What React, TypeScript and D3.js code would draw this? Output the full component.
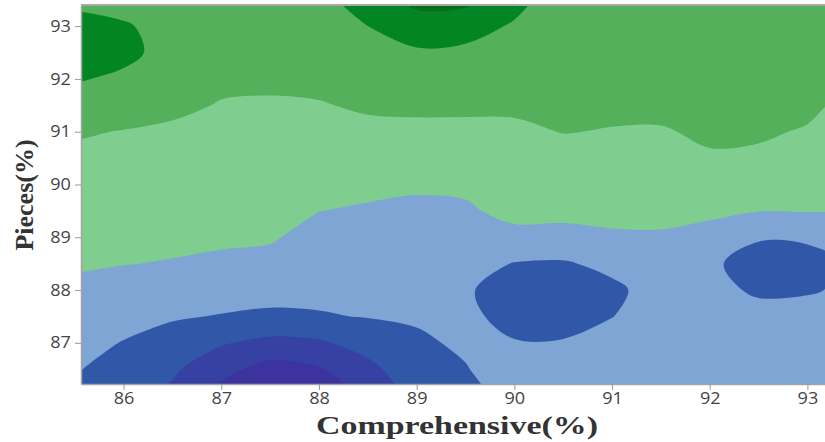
import * as d3 from "d3";
import { useEffect, useRef } from "react";

// grid of the response surface (rows go from top to bottom)
const xValues = [85.0, 85.5, 86.0, 86.5, 87.0, 87.5, 88.0, 88.5, 89.0, 89.5, 90.0, 90.5, 91.0, 91.5, 92.0, 92.5, 93.0, 93.5, 94.0];
const yValues = [94.0, 93.5, 93.0, 92.5, 92.0, 91.5, 91.0, 90.5, 90.0, 89.5, 89.0, 88.5, 88.0, 87.5, 87.0, 86.5, 86.0, 85.5];
const zRows = [
  [4.5, 4.5, 4.4, 4.3, 4.45, 4.5, 4.95, 5.5, 6.6, 6.5, 5.9, 4.75, 4.85, 4.85, 4.95, 5.0, 5.0, 5.05, 5.1],
  [4.9, 4.75, 4.6, 4.45, 4.45, 4.5, 4.85, 5.25, 6.3, 6.3, 5.25, 4.6, 4.72, 4.72, 4.85, 4.9, 4.9, 4.95, 5.0],
  [5.5, 5.35, 5.1, 4.65, 4.4, 4.45, 4.65, 5.0, 5.52, 5.3, 4.92, 4.45, 4.58, 4.58, 4.72, 4.78, 4.78, 4.8, 4.85],
  [5.4, 5.4, 5.2, 4.72, 4.3, 4.35, 4.4, 4.7, 4.88, 4.85, 4.65, 4.35, 4.43, 4.43, 4.58, 4.62, 4.6, 4.6, 4.65],
  [5.15, 5.07, 4.86, 4.5, 4.14, 4.15, 4.2, 4.4, 4.52, 4.5, 4.39, 4.25, 4.28, 4.28, 4.43, 4.47, 4.42, 4.1, 4.05],
  [4.7, 4.57, 4.39, 4.15, 3.96, 3.91, 3.95, 4.11, 4.16, 4.15, 4.12, 4.13, 4.13, 4.13, 4.27, 4.3, 4.2, 3.7, 3.65],
  [4.15, 4.08, 3.97, 3.89, 3.8, 3.74, 3.71, 3.8, 3.81, 3.81, 3.87, 4.02, 3.97, 3.96, 4.08, 4.12, 3.92, 3.55, 3.5],
  [3.87, 3.84, 3.78, 3.71, 3.63, 3.57, 3.48, 3.49, 3.47, 3.49, 3.65, 3.74, 3.7, 3.7, 3.95, 3.85, 3.62, 3.4, 3.38],
  [3.68, 3.65, 3.59, 3.53, 3.46, 3.41, 3.25, 3.19, 3.1, 3.16, 3.45, 3.5, 3.5, 3.45, 3.5, 3.46, 3.33, 3.22, 3.22],
  [3.49, 3.46, 3.4, 3.35, 3.29, 3.24, 3.01, 2.91, 2.85, 2.88, 3.25, 3.25, 3.3, 3.19, 3.14, 3.02, 3.04, 3.02, 3.05],
  [3.3, 3.27, 3.21, 3.16, 3.12, 3.07, 2.76, 2.69, 2.69, 2.7, 2.75, 2.7, 2.85, 2.92, 2.75, 2.1, 2.15, 2.6, 2.7],
  [3.1, 3.08, 3.02, 2.96, 2.86, 2.8, 2.51, 2.47, 2.5, 2.35, 1.96, 1.9, 2.24, 2.6, 2.2, 1.5, 1.6, 2.15, 2.4],
  [2.9, 2.85, 2.68, 2.52, 2.42, 2.34, 2.24, 2.25, 2.31, 2.1, 1.6, 1.5, 1.8, 2.4, 2.3, 1.85, 1.9, 2.2, 2.4],
  [2.7, 2.59, 2.32, 2.09, 1.95, 1.83, 1.93, 2.04, 2.11, 2.2, 1.7, 1.6, 1.98, 2.45, 2.5, 2.35, 2.4, 2.45, 2.5],
  [2.5, 2.33, 1.96, 1.62, 1.09, 0.74, 0.87, 1.37, 1.85, 2.15, 2.05, 2.07, 2.35, 2.6, 2.6, 2.55, 2.55, 2.6, 2.6],
  [2.25, 2.08, 1.6, 1.14, 0.33, -0.4, -0.1, 0.74, 1.6, 1.95, 2.5, 2.5, 2.6, 2.7, 2.7, 2.65, 2.65, 2.65, 2.65],
  [2.05, 1.82, 1.3, 0.8, -0.4, -1.2, -0.8, 0.21, 1.3, 1.6, 2.45, 2.6, 2.7, 2.75, 2.75, 2.7, 2.7, 2.7, 2.7],
  [1.85, 1.6, 1.05, 0.6, -1.0, -1.8, -1.4, -0.3, 0.9, 1.3, 2.35, 2.6, 2.7, 2.75, 2.75, 2.7, 2.7, 2.7, 2.7],
];
const levels = [0, 1, 2, 3, 4, 5, 6];
const bandColors = ["#3c339e", "#3641a3", "#3158a8", "#7ea5d4", "#80ce8f", "#54b05b", "#048523", "#006f15"];
const xTicks = [86, 87, 88, 89, 90, 91, 92, 93];
const yTicks = [87, 88, 89, 90, 91, 92, 93];

const App = () => {
  const svgRef = useRef<SVGSVGElement>(null);

  useEffect(() => {
    const w = 825;
    const h = 442;
    const left = 81, right = 825, top = 5, bottom = 384;
    const svg = d3.select(svgRef.current).attr("width", w).attr("height", h);
    svg.selectAll("*").remove();

    //scales
    const xScale = d3.scaleLinear().domain([85.564, 93.18]).range([left, right]);
    const yScale = d3.scaleLinear().domain([86.22, 93.4]).range([bottom, top]);

    //contours from the grid
    const n = xValues.length;
    const m = yValues.length;
    const contours = d3.contours().size([n, m]).thresholds(levels)(zRows.flat());
    const dx = xValues[1] - xValues[0];
    const dy = yValues[1] - yValues[0];
    const toPx = (p: number[]): [number, number] => [
      xScale(xValues[0] + (p[0] - 0.5) * dx),
      yScale(yValues[0] + (p[1] - 0.5) * dy),
    ];
    const ring = d3.line().curve(d3.curveCatmullRomClosed.alpha(0.5));

    svg.append("clipPath").attr("id", "plot-clip")
      .append("rect")
      .attr("x", left).attr("y", top)
      .attr("width", right - left).attr("height", bottom - top);

    const plot = svg.append("g").attr("clip-path", "url(#plot-clip)");
    plot.append("rect")
      .attr("x", left).attr("y", top)
      .attr("width", right - left).attr("height", bottom - top)
      .attr("fill", bandColors[0]);

    plot.selectAll("path")
      .data(contours)
      .join("path")
      .attr("fill", (d, i) => bandColors[i + 1])
      .attr("fill-rule", "evenodd")
      .attr("d", (d: any) =>
        d.coordinates
          .flatMap((poly: number[][][]) => poly.map((r) => ring(r.slice(0, -1).map(toPx) as any)))
          .join("")
      );

    //axes
    const xAxis = d3.axisBottom(xScale).tickValues(xTicks).tickSize(6).tickSizeOuter(0).tickFormat(d3.format("d"));
    const yAxis = d3.axisLeft(yScale).tickValues(yTicks).tickSize(6).tickSizeOuter(0).tickFormat(d3.format("d"));

    const gx = svg.append("g").attr("transform", `translate(0,${bottom})`).call(xAxis);
    const gy = svg.append("g").attr("transform", `translate(${left},0)`).call(yAxis);

    [gx, gy].forEach((g) => {
      g.select(".domain").attr("stroke", "#a3a3a3").attr("stroke-width", 1.5);
      g.selectAll(".tick line").attr("stroke", "#9a9a9a");
      g.selectAll(".tick text")
        .attr("font-family", "'Open Sans', sans-serif")
        .attr("font-size", 16)
        .attr("fill", "#444")
        .attr("transform", "scale(1.13,1)");
    });

    svg.append("line")
      .attr("x1", left).attr("x2", right)
      .attr("y1", top).attr("y2", top)
      .attr("stroke", "#a8a8a8").attr("stroke-width", 2);

    //titles
    svg.append("text")
      .attr("x", 457).attr("y", 434)
      .attr("text-anchor", "middle")
      .attr("font-family", "'Liberation Serif', 'Times New Roman', serif")
      .attr("font-weight", "bold")
      .attr("font-size", 26)
      .attr("fill", "#333")
      .attr("textLength", 282)
      .attr("lengthAdjust", "spacingAndGlyphs")
      .text("Comprehensive(%)");

    svg.append("text")
      .attr("transform", "translate(33,195) rotate(-90)")
      .attr("text-anchor", "middle")
      .attr("font-family", "'Liberation Serif', 'Times New Roman', serif")
      .attr("font-weight", "bold")
      .attr("font-size", 26)
      .attr("fill", "#333")
      .text("Pieces(%)");
  }, []);

  return (
    <div style={{ position: "absolute", left: 0, top: 0 }}>
      <svg ref={svgRef}></svg>
    </div>
  );
};

export default App;
